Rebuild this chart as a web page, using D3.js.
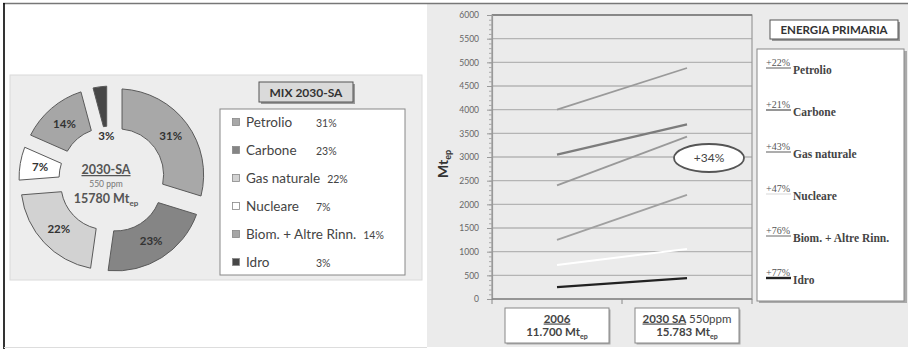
<!DOCTYPE html>
<html>
<head>
<meta charset="utf-8">
<script src="https://cdn.jsdelivr.net/npm/d3@7/dist/d3.min.js"></script>
<style>
  html, body { margin: 0; padding: 0; background: #ffffff; }
  svg { display: block; }
</style>
</head>
<body>
<svg id="chart" width="908" height="349"></svg>
<script>
// ---- Mix 2030-SA (donut) ----
const mixNames = ["Petrolio", "Carbone", "Gas naturale", "Nucleare", "Biom. + Altre Rinn.", "Idro"];
const mixShares = [31, 23, 22, 7, 14, 3];

// ---- Energia primaria (lines 2006 -> 2030 SA) ----
const years = ["2006", "2030 SA"];
const seriesNames = ["Petrolio", "Carbone", "Gas naturale", "Nucleare", "Biom. + Altre Rinn.", "Idro"];
const values2006 = [4000, 3050, 2400, 720, 1250, 250];
const values2030 = [4880, 3690, 3430, 1058, 2200, 442];
const growthLabels = ["+22%", "+21%", "+43%", "+47%", "+76%", "+77%"];
const yTicks = [0, 500, 1000, 1500, 2000, 2500, 3000, 3500, 4000, 4500, 5000, 5500, 6000];
const totals = ["11.700", "15.783"];
const totalGrowth = "+34%";

const svg = d3.select("#chart");
const sans = "Lato, 'Open Sans', sans-serif";
const serif = "'Liberation Serif', 'DejaVu Serif', serif";

// page frame
svg.append("rect").attr("x", 427).attr("y", 4).attr("width", 481).attr("height", 343).attr("fill", "#ebebeb");
svg.append("line").attr("x1", 3).attr("x2", 908).attr("y1", 3.5).attr("y2", 3.5).attr("stroke", "#777").attr("stroke-width", 1.5);
svg.append("line").attr("x1", 4).attr("x2", 4).attr("y1", 3).attr("y2", 349).attr("stroke", "#000").attr("stroke-width", 1.6);
svg.append("line").attr("x1", 4).attr("x2", 427).attr("y1", 347.5).attr("y2", 347.5).attr("stroke", "#ddd").attr("stroke-width", 1);

// ================= LEFT: donut =================
svg.append("rect").attr("x", 10).attr("y", 75).attr("width", 412).attr("height", 205)
  .attr("fill", "#ededed").attr("stroke", "#dadada");

const mixColors = ["#a8a8a8", "#858585", "#d2d2d2", "#ffffff", "#a6a6a6", "#474747"];
const cx = 112, cy = 179, rOut = 86, rIn = 46, explode = 7;

const pie = d3.pie().sort(null).value(d => d).startAngle(0).endAngle(2 * Math.PI).padAngle(0.09);
const arcs = pie(mixShares);
const arc = d3.arc().innerRadius(rIn).outerRadius(rOut);
const donut = svg.append("g").attr("transform", `translate(${cx},${cy})`);

const slice = donut.selectAll("g.slice").data(arcs).join("g").attr("class", "slice")
  .attr("transform", d => {
    const a = (d.startAngle + d.endAngle) / 2;
    return `translate(${explode * Math.sin(a)},${-explode * Math.cos(a)})`;
  });
slice.append("path").attr("d", arc)
  .attr("fill", (d, i) => mixColors[i]).attr("stroke", "#5a5a5a").attr("stroke-width", 1);
slice.append("text")
  .attr("transform", d => {
    const a = (d.startAngle + d.endAngle) / 2;
    const r = d.data < 5 ? rIn - 10 : (rIn + rOut) / 2;
    return `translate(${r * Math.sin(a)},${-r * Math.cos(a)})`;
  })
  .attr("text-anchor", "middle").attr("dy", "0.35em")
  .attr("font-family", sans).attr("font-weight", "bold").attr("font-size", 11.5)
  .attr("fill", "#333").text(d => d.data + "%");

// centre caption
const cap = svg.append("g").attr("font-family", sans).attr("text-anchor", "middle").attr("fill", "#555");
cap.append("text").attr("x", 106).attr("y", 174).attr("font-weight", "bold").attr("font-size", 12.5)
  .attr("text-decoration", "underline").text("2030-SA");
cap.append("text").attr("x", 106).attr("y", 187).attr("font-size", 8.5).attr("fill", "#777").text("550 ppm");
const capT = cap.append("text").attr("x", 106).attr("y", 203).attr("font-weight", "bold").attr("font-size", 12.5);
capT.append("tspan").text("15780 Mt");
capT.append("tspan").attr("dy", 3).attr("font-size", 8).text("ep");

// legend title box
svg.append("rect").attr("x", 261).attr("y", 84).attr("width", 94).attr("height", 20).attr("fill", "#999");
svg.append("rect").attr("x", 259).attr("y", 82).attr("width", 94).attr("height", 20)
  .attr("fill", "#dadada").attr("stroke", "#555");
svg.append("text").attr("x", 306).attr("y", 96.5).attr("text-anchor", "middle")
  .attr("font-family", sans).attr("font-weight", "bold").attr("font-size", 12).attr("fill", "#333")
  .text("MIX 2030-SA");

// legend list
svg.append("rect").attr("x", 220).attr("y", 109).attr("width", 185).attr("height", 166)
  .attr("fill", "#fff").attr("stroke", "#888");
const leg = svg.append("g").attr("font-family", sans).attr("fill", "#444");
mixNames.forEach((name, i) => {
  const y = 127 + i * 28;
  leg.append("rect").attr("x", 232.5).attr("y", y - 8.5).attr("width", 7).attr("height", 7)
    .attr("fill", mixColors[i]).attr("stroke", "#888").attr("stroke-width", 0.8);
  const t = leg.append("text").attr("x", 246).attr("y", y).attr("font-size", 13.5).text(name);
  const end = 246 + t.node().getComputedTextLength();
  leg.append("text").attr("x", Math.max(316, end + 7)).attr("y", y).attr("font-size", 10.5)
    .text(mixShares[i] + "%");
});

// ================= RIGHT: line chart =================
const x = d3.scalePoint().domain(years).range([492, 752]).padding(0.5);
const y = d3.scaleLinear().domain([0, 6000]).range([299, 15]);

const plot = svg.append("g");
// gridlines
plot.selectAll("line.grid").data(yTicks.filter(v => v > 0 && v < 6000)).join("line")
  .attr("x1", 492).attr("x2", 752).attr("y1", d => y(d)).attr("y2", d => y(d))
  .attr("stroke", "#b4b4b4").attr("stroke-width", 1.4);
plot.append("rect").attr("x", 492).attr("y", y(6000)).attr("width", 260).attr("height", y(0) - y(6000))
  .attr("fill", "none").attr("stroke", "#999").attr("stroke-width", 1.2);
plot.append("line").attr("x1", 492).attr("x2", 752).attr("y1", y(6000)).attr("y2", y(6000))
  .attr("stroke", "#777").attr("stroke-width", 1.5);

// y axis: minor and major ticks
const minor = svg.append("g").attr("transform", "translate(492,0)")
  .call(d3.axisLeft(y).tickValues(d3.range(0, 6001, 100)).tickSize(3).tickFormat(""));
minor.select(".domain").remove();
minor.selectAll("line").attr("stroke", "#aaa");
const yAxis = svg.append("g").attr("transform", "translate(492,0)")
  .call(d3.axisLeft(y).tickValues(yTicks).tickSize(5).tickPadding(8).tickFormat(d3.format("d")));
yAxis.select(".domain").attr("stroke", "#999").attr("stroke-width", 1.2);
yAxis.selectAll("line").attr("stroke", "#999");
yAxis.selectAll("text").attr("font-family", sans).attr("font-size", 8.5).attr("fill", "#666");

// x axis baseline with ticks at category boundaries
const xb = svg.append("g");
xb.append("line").attr("x1", 492).attr("x2", 752).attr("y1", y(0)).attr("y2", y(0))
  .attr("stroke", "#888").attr("stroke-width", 1.4);
[492, (x(years[0]) + x(years[1])) / 2, 752].forEach(px => {
  xb.append("line").attr("x1", px).attr("x2", px).attr("y1", y(0)).attr("y2", y(0) + 5)
    .attr("stroke", "#888");
});

// y title
const yt = svg.append("text").attr("transform", "translate(448,164) rotate(-90)")
  .attr("text-anchor", "middle").attr("font-family", sans).attr("font-weight", "bold")
  .attr("font-size", 14).attr("fill", "#333");
yt.append("tspan").text("Mt");
yt.append("tspan").attr("dy", 3).attr("font-size", 9).text("ep");

// series lines
const lineColors = ["#9a9a9a", "#7c7c7c", "#999999", "#ffffff", "#a0a0a0", "#222222"];
const lineWidths = [1.8, 2.2, 1.8, 2, 1.8, 2.4];
seriesNames.forEach((name, i) => {
  const pts = [[years[0], values2006[i]], [years[1], values2030[i]]];
  svg.append("path").datum(pts)
    .attr("d", d3.line().x(d => x(d[0])).y(d => y(d[1])))
    .attr("fill", "none").attr("stroke", lineColors[i]).attr("stroke-width", lineWidths[i]);
});

// total growth bubble
svg.append("ellipse").attr("cx", 709).attr("cy", 158).attr("rx", 35).attr("ry", 14)
  .attr("fill", "#fff").attr("stroke", "#555").attr("stroke-width", 1.8);
svg.append("text").attr("x", 709).attr("y", 162).attr("text-anchor", "middle")
  .attr("font-family", sans).attr("font-size", 12).attr("fill", "#444").text(totalGrowth);

// category boxes under the axis
const subs = [["2006", ""], ["2030 SA", " 550ppm"]];
years.forEach((yr, i) => {
  const bx = x(yr) - 52, by = 308;
  svg.append("rect").attr("x", bx + 1.5).attr("y", by + 1.5).attr("width", 104).attr("height", 35).attr("fill", "#aaa");
  svg.append("rect").attr("x", bx).attr("y", by).attr("width", 104).attr("height", 35)
    .attr("fill", "#fff").attr("stroke", "#888");
  const t1 = svg.append("text").attr("x", x(yr)).attr("y", by + 14.5).attr("text-anchor", "middle")
    .attr("font-family", sans).attr("font-size", 11.5).attr("fill", "#444");
  t1.append("tspan").attr("font-weight", "bold").attr("text-decoration", "underline").text(subs[i][0]);
  if (subs[i][1]) t1.append("tspan").text(subs[i][1]);
  const t2 = svg.append("text").attr("x", x(yr)).attr("y", by + 28).attr("text-anchor", "middle")
    .attr("font-family", sans).attr("font-weight", "bold").attr("font-size", 11.5).attr("fill", "#444");
  t2.append("tspan").text(totals[i] + " Mt");
  t2.append("tspan").attr("dy", 2.5).attr("font-size", 7).text("ep");
});

// legend title box
svg.append("rect").attr("x", 772).attr("y", 22).attr("width", 128).attr("height", 19).attr("fill", "#999");
svg.append("rect").attr("x", 770).attr("y", 20).attr("width", 128).attr("height", 19)
  .attr("fill", "#fff").attr("stroke", "#555");
svg.append("text").attr("x", 834).attr("y", 34).attr("text-anchor", "middle")
  .attr("font-family", sans).attr("font-weight", "bold").attr("font-size", 11.5).attr("fill", "#333")
  .text("ENERGIA PRIMARIA");

// legend list
svg.append("rect").attr("x", 759).attr("y", 51).attr("width", 148).attr("height", 252).attr("fill", "#aaa");
svg.append("rect").attr("x", 757).attr("y", 49).attr("width", 147).attr("height", 252)
  .attr("fill", "#fff").attr("stroke", "#888");
const lineLegendColors = ["#9a9a9a", "#7c7c7c", "#999999", "#e6e6e6", "#a0a0a0", "#222222"];
seriesNames.forEach((name, i) => {
  const yy = 74 + i * 42;
  svg.append("line").attr("x1", 766).attr("x2", 791).attr("y1", yy - 6).attr("y2", yy - 6)
    .attr("stroke", lineLegendColors[i]).attr("stroke-width", i === 5 ? 2.4 : 1.6);
  svg.append("text").attr("x", 766).attr("y", yy - 8).attr("font-family", serif)
    .attr("font-size", 10).attr("fill", "#555").text(growthLabels[i]);
  svg.append("text").attr("x", 793).attr("y", yy).attr("font-family", serif)
    .attr("font-weight", "bold").attr("font-size", 11.5).attr("fill", "#444").text(name);
});
</script>
</body>
</html>
